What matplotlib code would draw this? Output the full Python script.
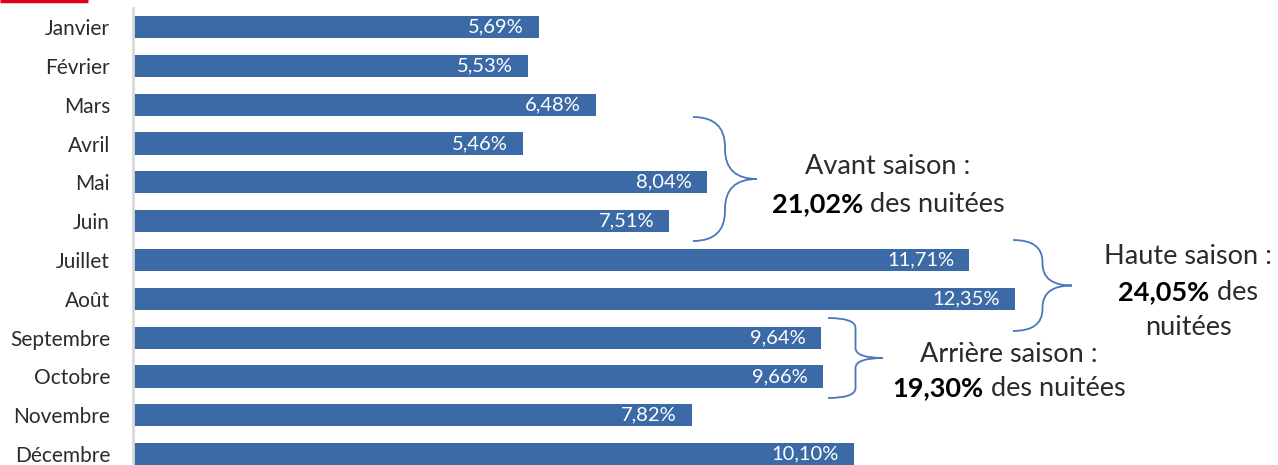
import matplotlib

matplotlib.use("Agg")
import matplotlib.pyplot as plt
from matplotlib.path import Path
from matplotlib.patches import PathPatch

months = ["Janvier", "Février", "Mars", "Avril", "Mai", "Juin", "Juillet",
          "Août", "Septembre", "Octobre", "Novembre", "Décembre"]
shares = [5.69, 5.53, 6.48, 5.46, 8.04, 7.51, 11.71, 12.35, 9.64, 9.66, 7.82, 10.10]

season_names = ["Avant saison :", "Haute saison :", "Arrière saison :"]
season_shares = [21.02, 24.05, 19.30]

BAR = "#3c6aa6"
BRACE = "#4a76bd"
TXT = "#2b2b2b"
FONT = "Lato"

plt.rcParams["font.family"] = [FONT, "DejaVu Sans"]

W, H = 1278, 465
fig = plt.figure(figsize=(W / 100, H / 100), dpi=100)
ax = fig.add_axes([133 / W, 0, 1 - 133 / W, 1 - 8 / H])

y = range(len(months))
bars = ax.barh(y, shares, height=0.57, color=BAR)
ax.set_xlim(0, (W - 133) / 71.42)
ax.set_ylim(11.28, -0.49)
ax.set_yticks(list(y))
ax.set_yticklabels(months, fontsize=15, color=TXT)
ax.tick_params(axis="y", length=0, pad=16.5)
ax.set_xticks([])
for s in ["top", "right", "bottom"]:
    ax.spines[s].set_visible(False)
ax.spines["left"].set_color("#d9d9d9")
ax.spines["left"].set_linewidth(2)

for bar, v in zip(bars, shares):
    ax.annotate(f"{v:.2f}%".replace(".", ","),
                (bar.get_width(), bar.get_y() + bar.get_height() / 2),
                xytext=(-11, 0), textcoords="offset points",
                ha="right", va="center", color="white", fontsize=14.5)

# overlay in pixel coordinates for braces and season notes
ov = fig.add_axes([0, 0, 1, 1], facecolor="none")
ov.set_xlim(0, W)
ov.set_ylim(H, 0)
ov.axis("off")


def brace(x0, x1, yt, yb, r):
    xm = (x0 + x1) / 2
    ym = (yt + yb) / 2
    verts = [(x0, yt), (xm, yt), (xm, yt + r), (xm, ym - r), (xm, ym), (x1, ym),
             (xm, ym), (xm, ym + r), (xm, yb - r), (xm, yb), (x0, yb)]
    codes = [Path.MOVETO, Path.CURVE3, Path.CURVE3, Path.LINETO,
             Path.CURVE3, Path.CURVE3, Path.CURVE3, Path.CURVE3,
             Path.LINETO, Path.CURVE3, Path.CURVE3]
    ov.add_patch(PathPatch(Path(verts, codes), fill=False, color=BRACE, lw=1.3))


brace(693, 757, 117, 241, 30)
brace(1013, 1072, 240, 331, 22)
brace(828, 883, 318, 398, 10)

renderer = fig.canvas.get_renderer()
NOTE = 19.5


def mixed_line(cx, cy, bold, rest):
    tb = ov.text(0, cy, bold, fontsize=NOTE, fontweight="bold", va="center", color="black")
    tr = ov.text(0, cy, " " + rest, fontsize=NOTE, va="center", color=TXT)
    wb = tb.get_window_extent(renderer).width
    wr = tr.get_window_extent(renderer).width
    left = cx - (wb + wr) / 2
    tb.set_x(left)
    tr.set_x(left + wb)


def pct(v):
    return f"{v:.2f}%".replace(".", ",")


ov.text(888, 166, season_names[0], fontsize=NOTE,
        ha="center", va="center", color=TXT)
mixed_line(888, 204, pct(season_shares[0]), "des nuitées")

ov.text(1188, 256, season_names[1], fontsize=NOTE,
        ha="center", va="center", color=TXT)
mixed_line(1188, 292, pct(season_shares[1]), "des")
ov.text(1188, 327, "nuitées", fontsize=NOTE,
        ha="center", va="center", color=TXT)

ov.text(1009, 354, season_names[2], fontsize=NOTE,
        ha="center", va="center", color=TXT)
mixed_line(1009, 388, pct(season_shares[2]), "des nuitées")

# red mark at top-left edge of the source crop
ov.plot([0, 88], [0.8, 0.8], color="#e3001b", lw=2.5, solid_capstyle="butt")

fig.savefig("out.png", dpi=100)
